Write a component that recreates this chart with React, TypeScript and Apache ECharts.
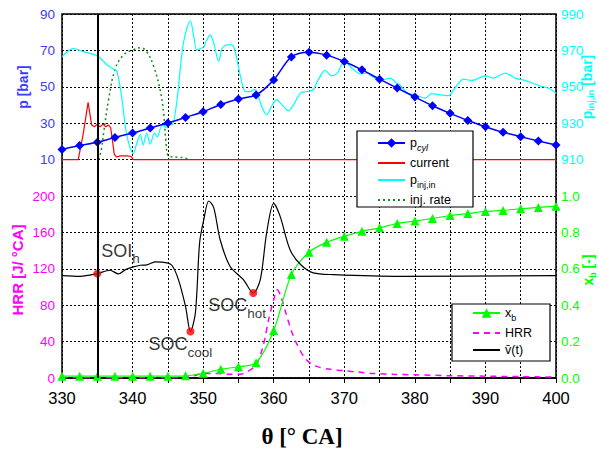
import React, { useEffect, useRef } from 'react';
import * as echarts from 'echarts';

// ---------- data ----------
const markTheta = [330, 332.5, 335, 337.5, 340, 342.5, 345, 347.5, 350, 352.5, 355, 357.5, 360, 362.5, 365, 367.5, 370, 372.5, 375, 377.5, 380, 382.5, 385, 387.5, 390, 392.5, 395, 397.5, 400];
const pCyl = [15.6, 17.7, 19.5, 22.2, 24.6, 27.4, 30.1, 33.2, 36.3, 40.3, 43.3, 45.5, 53.8, 66.4, 69.0, 67.4, 63.9, 59.3, 54.2, 49.3, 44.4, 39.6, 35.4, 31.5, 28.1, 25.0, 22.6, 20.2, 18.0];
const xb = [0.01, 0.01, 0.01, 0.01, 0.01, 0.01, 0.01, 0.012, 0.026, 0.048, 0.062, 0.084, 0.261, 0.568, 0.691, 0.746, 0.779, 0.806, 0.825, 0.849, 0.862, 0.877, 0.893, 0.904, 0.915, 0.921, 0.930, 0.937, 0.944];

const currentTheta = [330, 332.3, 333.0, 333.7, 334.2, 334.6, 335.0, 335.4, 335.8, 336.2, 336.6, 336.9, 337.1, 337.4, 337.7, 338.3, 339.2, 339.8, 340.1, 400];
const current = [10, 10, 24, 41.4, 29, 28, 29.5, 28, 29.5, 28, 29, 27.5, 22, 13, 11.5, 12, 12, 11.7, 10, 10];

const injTheta = [335.2, 335.6, 335.9, 336.6, 337.5, 338.7, 340.1, 341.1, 342.0, 343.0, 343.9, 344.4, 344.7, 345.0, 345.5, 346.5, 347.5, 348.0];
const injRate = [10, 16, 24.6, 42.9, 59.3, 67.5, 70.3, 71.5, 69.3, 61.1, 48.4, 35.6, 21, 12.2, 11.5, 11.3, 10.8, 10];

const pInjTheta = [330.0, 331.6, 333.0, 335.0, 336.4, 337.3, 337.8, 338.5, 339.2, 340.1, 340.6, 341.1, 341.5, 342.0, 342.5, 343.1, 343.5, 344.2, 344.9, 345.1, 345.6, 346.3, 347.2, 348.2, 348.6, 349.1, 349.6, 350.1, 350.4, 351.0, 351.5, 352.2, 352.7, 353.4, 354.1, 354.6, 355.3, 356.0, 356.7, 357.2, 357.6, 358.3, 359.0, 359.7, 360.4, 361.2, 362.1, 362.8, 363.8, 364.7, 365.6, 366.3, 367.3, 368.2, 369.0, 370.0, 371.1, 372.3, 373.2, 374.1, 375.1, 376.5, 377.4, 377.9, 378.9, 380.0, 381.5, 382.4, 383.6, 384.8, 385.5, 386.9, 388.1, 390.0, 391.1, 392.8, 394.2, 395.6, 397.7, 398.9, 400.0];
const pInj = [966.6, 971.0, 969.3, 967.0, 962.0, 959.7, 958.4, 943, 923, 913.3, 919, 923.7, 918, 924.6, 918.5, 924.6, 922.5, 929, 927.4, 929.9, 929, 942.9, 974, 986.3, 979.4, 970.3, 971, 972, 974.8, 978.5, 974, 963.9, 971.2, 973, 973, 968.5, 955.6, 947.4, 947.4, 948.4, 947.4, 939.2, 934.7, 939.2, 942.9, 940.1, 936.8, 940.1, 946.5, 947.4, 948.4, 953.8, 959, 956, 957.5, 963.9, 960.2, 957.1, 957.5, 955.3, 953.5, 954.8, 952, 951, 946.5, 945.6, 943.8, 946.2, 945.6, 945.1, 948.4, 954.2, 953.5, 956, 954.8, 957.5, 954.8, 953.5, 950.5, 949.3, 946.5];

const hrrTheta = [330, 340, 347, 348.5, 350, 352, 354, 355.5, 356.5, 357.5, 358.5, 359.3, 360, 360.5, 361, 361.7, 362.5, 363.3, 364.5, 366, 368, 370, 372, 374, 377, 380, 385, 390, 395, 400];
const hrr = [0.3, 0.3, 0.5, 2, 5, 5, 4, 4.5, 8, 14, 35, 65, 86, 97, 90, 72, 52, 37, 21, 13, 9.5, 8, 6.5, 5, 4, 3.5, 2.5, 2, 1.5, 1];

const vTheta = [330, 332.6, 335, 336.8, 338, 339, 340.1, 341.1, 342, 343.2, 344.9, 345.6, 346.5, 347.5, 348.2, 348.9, 349.5, 350.1, 350.8, 351.5, 352.4, 353.8, 355.7, 357.1, 358.1, 359.0, 360.0, 360.9, 362.3, 363.8, 365.6, 368.5, 378, 400];
const vMean = [112.5, 111.7, 114.7, 118.4, 114.4, 119.1, 122.1, 123.9, 124.3, 127.6, 126.5, 123.6, 108.1, 78.7, 51.1, 71.4, 148.6, 174.3, 194.5, 187.2, 152.2, 122.8, 108.1, 93.4, 108.1, 159.6, 191.9, 177.9, 141.2, 124.7, 115.5, 113.6, 111.7, 112.5];

const eventNames = ['SOI_h', 'SOC_cool', 'SOC_hot'];
const eventTheta = [335, 348.2, 357.1];
const eventValue = [114.7, 51.1, 93.4];
const soiTheta = 335;

const xTicks = { min: 330, max: 400, step: 5, labelStep: 10 };
const pTicks = { min: -110, max: 90, step: 20, firstLabel: 10 };
const pInjTicks = { min: 790, max: 990, step: 20, firstLabel: 910 };
const hrrTicks = { min: 0, max: 400, step: 40, lastLabel: 200 };
const xbTicks = { min: 0, max: 2, step: 0.2, lastLabel: 1.0 };

const legendTop = ['p_cyl', 'current', 'p_inj,in', 'inj. rate'];
const legendBottom = ['x_b', 'HRR', 'v(t)'];
const withMarker = ['p_cyl', 'x_b'];

// ---------- styles ----------
const SANS = '"Liberation Sans", Arial, Helvetica, sans-serif';
const SERIF = '"Liberation Serif", "Times New Roman", serif';
const BLUE = '#0000ff';
const BLUE_LBL = '#3c3cff';
const RED = '#ff0000';
const CYAN = '#00ffff';
const GREEN = '#00ff00';
const DKGREEN = '#1a8a1a';
const MAGENTA = '#ff00ff';

const zip = (a: number[], b: number[]) => a.map((v, i) => [v, b[i]]);

const gridLine = { show: true, lineStyle: { color: '#000', width: 1, type: [2, 2] as any } };

const legendRich = {
  n: { fontSize: 12.5, lineHeight: 14, verticalAlign: 'top', fontFamily: SANS, color: '#000' },
  s: { fontSize: 9, lineHeight: 9, verticalAlign: 'top', padding: [7, 0, 0, 0], fontFamily: SANS, color: '#000' },
  si: { fontSize: 9, lineHeight: 9, verticalAlign: 'top', padding: [7, 0, 0, 0], fontFamily: SANS, fontStyle: 'italic', color: '#000' },
};
const legendText: Record<string, string> = {
  p_cyl: '{n|p}{si|cyl}',
  current: '{n|current}',
  'p_inj,in': '{n|p}{s|inj,in}',
  'inj. rate': '{n|inj. rate}',
  x_b: '{n|x}{s|b}',
  HRR: '{n|HRR}',
  'v(t)': '{n|v\u0304(t)}',
};

const annoRich = {
  m: { fontSize: 18, lineHeight: 20, verticalAlign: 'top', fontFamily: SANS, color: '#000' },
  s: { fontSize: 13.5, lineHeight: 14, verticalAlign: 'top', padding: [10, 0, 0, 0], fontFamily: SANS, color: '#000' },
};
const annoText: Record<string, string> = {
  SOI_h: '{m|SOI}{s|h}',
  SOC_cool: '{m|SOC}{s|cool}',
  SOC_hot: '{m|SOC}{s|hot}',
};
const annoOffset: Record<string, number[]> = {
  SOI_h: [4, -32],
  SOC_cool: [-42, 4],
  SOC_hot: [-45, 3],
};

const legendItems = (names: string[]) =>
  names.map((n) =>
    withMarker.includes(n)
      ? { name: n }
      : { name: n, itemStyle: { color: 'rgba(0,0,0,0)', borderWidth: 0, opacity: 0 } }
  );

function buildOption() {
  const yBase = {
    type: 'value',
    axisTick: { show: false },
    axisLine: { show: false },
    splitLine: { show: false },
  };
  const legendBase = {
    orient: 'vertical', padding: 0,
    itemWidth: 27, itemHeight: 12, itemGap: 4, z: 6, selectedMode: false,
    textStyle: { fontSize: 12.5, color: '#000', fontFamily: SANS, rich: legendRich },
    formatter: (name: string) => legendText[name] || name,
  };
  return {
    animation: false,
    backgroundColor: '#fff',
    grid: {
      left: 62, right: 43, top: 14, height: 364,
      show: true, borderColor: '#000', borderWidth: 1.5,
      containLabel: false, outerBoundsMode: 'none',
    },
    xAxis: {
      type: 'value', min: xTicks.min, max: xTicks.max, interval: xTicks.step,
      axisLine: { onZero: false, lineStyle: { color: '#000', width: 1.5 } },
      axisTick: { show: true, length: 5, lineStyle: { color: '#000', width: 1 } },
      axisLabel: {
        color: '#000', fontSize: 16.5, fontFamily: SANS, margin: 11,
        formatter: (v: number) => (Math.round(v) % xTicks.labelStep === 0 ? String(Math.round(v)) : ''),
      },
      splitLine: gridLine,
    },
    yAxis: [
      {
        ...yBase, position: 'left', min: pTicks.min, max: pTicks.max, interval: pTicks.step,
        splitLine: gridLine,
        axisLabel: { color: BLUE_LBL, fontSize: 13.5, fontFamily: SANS, margin: 7,
          formatter: (v: number) => (v >= pTicks.firstLabel ? String(Math.round(v)) : '') },
      },
      {
        ...yBase, position: 'right', min: pInjTicks.min, max: pInjTicks.max, interval: pInjTicks.step,
        axisLabel: { color: CYAN, fontSize: 13.5, fontFamily: SANS, margin: 5,
          formatter: (v: number) => (v >= pInjTicks.firstLabel ? String(Math.round(v)) : '') },
      },
      {
        ...yBase, position: 'left', min: hrrTicks.min, max: hrrTicks.max, interval: hrrTicks.step,
        axisLabel: { color: MAGENTA, fontSize: 13.5, fontFamily: SANS, margin: 7,
          formatter: (v: number) => (v <= hrrTicks.lastLabel + 0.001 ? String(Math.round(v)) : '') },
      },
      {
        ...yBase, position: 'right', min: xbTicks.min, max: xbTicks.max, interval: xbTicks.step,
        axisLabel: { color: GREEN, fontSize: 13.5, fontFamily: SANS, margin: 5,
          formatter: (v: number) => (v <= xbTicks.lastLabel + 0.0001 ? v.toFixed(1) : '') },
      },
    ],
    legend: [
      { ...legendBase, data: legendItems(legendTop), left: 377, top: 136 },
      { ...legendBase, data: legendItems(legendBottom), left: 472, top: 306 },
    ],
    graphic: [
      { type: 'rect', z: 5, shape: { x: 357, y: 131, width: 116, height: 76 }, style: { fill: '#fff', stroke: '#000', lineWidth: 1.2 } },
      { type: 'rect', z: 5, shape: { x: 452, y: 304, width: 98, height: 57 }, style: { fill: '#fff', stroke: '#000', lineWidth: 1.2 } },
      { type: 'text', x: 23, y: 87, rotation: Math.PI / 2,
        style: { text: 'p [bar]', fill: BLUE_LBL, fontSize: 14, fontWeight: 'bold', fontFamily: SANS, align: 'center', verticalAlign: 'middle' } },
      { type: 'text', x: 17, y: 270, rotation: Math.PI / 2,
        style: { text: 'HRR [J/ °CA]', fill: MAGENTA, fontSize: 15, fontWeight: 'bold', fontFamily: SANS, align: 'center', verticalAlign: 'middle' } },
      { type: 'text', x: 588, y: 87, rotation: Math.PI / 2,
        style: {
          text: '{b|p}{s|inj,in}{b| [bar]}', align: 'center', verticalAlign: 'middle',
          rich: {
            b: { fill: CYAN, fontSize: 14, fontWeight: 'bold', fontFamily: SANS, lineHeight: 16, verticalAlign: 'top' },
            s: { fill: CYAN, fontSize: 9, fontWeight: 'bold', fontFamily: SANS, lineHeight: 9, verticalAlign: 'top', padding: [6, 0, 0, 0] },
          },
        } },
      { type: 'text', x: 589, y: 270, rotation: Math.PI / 2,
        style: {
          text: '{b|x}{s|b}{b| [-]}', align: 'center', verticalAlign: 'middle',
          rich: {
            b: { fill: GREEN, fontSize: 14, fontWeight: 'bold', fontFamily: SANS, lineHeight: 16, verticalAlign: 'top' },
            s: { fill: GREEN, fontSize: 9, fontWeight: 'bold', fontFamily: SANS, lineHeight: 9, verticalAlign: 'top', padding: [7, 0, 0, 0] },
          },
        } },
      { type: 'text', x: 302, y: 436,
        style: { text: 'θ [° CA]', fill: '#000', fontSize: 23, fontWeight: 'bold', fontFamily: SERIF, align: 'center', verticalAlign: 'middle' } },
    ],
    series: [
      {
        name: 'inj. rate', type: 'line', yAxisIndex: 0, symbol: 'none', smooth: 0.4,
        data: zip(injTheta, injRate),
        lineStyle: { color: DKGREEN, width: 1.5, type: [2, 3] },
        itemStyle: { color: DKGREEN },
      },
      {
        name: 'p_inj,in', type: 'line', yAxisIndex: 1, symbol: 'none', smooth: 0.3,
        data: zip(pInjTheta, pInj),
        lineStyle: { color: CYAN, width: 1.2 },
        itemStyle: { color: CYAN },
      },
      {
        name: 'current', type: 'line', yAxisIndex: 0, symbol: 'none',
        data: zip(currentTheta, current),
        lineStyle: { color: RED, width: 1.2 },
        itemStyle: { color: RED },
      },
      {
        name: 'p_cyl', type: 'line', yAxisIndex: 0, symbol: 'diamond', symbolSize: 9, smooth: 0.3,
        data: zip(markTheta, pCyl),
        lineStyle: { color: BLUE, width: 1.5 },
        itemStyle: { color: BLUE },
      },
      {
        name: 'HRR', type: 'line', yAxisIndex: 2, symbol: 'none', smooth: 0.3,
        data: zip(hrrTheta, hrr),
        lineStyle: { color: MAGENTA, width: 1.5, type: [6, 5] },
        itemStyle: { color: MAGENTA },
      },
      {
        name: 'x_b', type: 'line', yAxisIndex: 3, symbol: 'triangle', symbolSize: 9, smooth: 0.3,
        data: zip(markTheta, xb),
        lineStyle: { color: GREEN, width: 1.2 },
        itemStyle: { color: GREEN },
      },
      {
        name: 'v(t)', type: 'line', yAxisIndex: 2, symbol: 'none', smooth: 0.3,
        data: zip(vTheta, vMean),
        lineStyle: { color: '#000', width: 1.2 },
        itemStyle: { color: '#000' },
      },
      {
        name: 'events', type: 'scatter', yAxisIndex: 2, symbol: 'circle', symbolSize: 8, z: 4,
        itemStyle: { color: RED },
        data: eventNames.map((n, i) => ({
          value: [eventTheta[i], eventValue[i]],
          label: {
            show: true, position: 'inside', align: 'left', verticalAlign: 'top',
            offset: annoOffset[n], formatter: annoText[n], rich: annoRich,
          },
        })),
        markLine: {
          silent: true, symbol: 'none', label: { show: false },
          lineStyle: { color: '#000', width: 2, type: 'solid' },
          data: [{ xAxis: soiTheta }],
        },
      },
    ],
  };
}

export default function App() {
  const ref = useRef<HTMLDivElement>(null);
  useEffect(() => {
    document.body.style.margin = '0';
    const chart = echarts.init(ref.current!, null, { renderer: 'svg' });
    chart.setOption(buildOption() as any);
    return () => chart.dispose();
  }, []);
  return <div ref={ref} style={{ width: 599, height: 450 }} />;
}
